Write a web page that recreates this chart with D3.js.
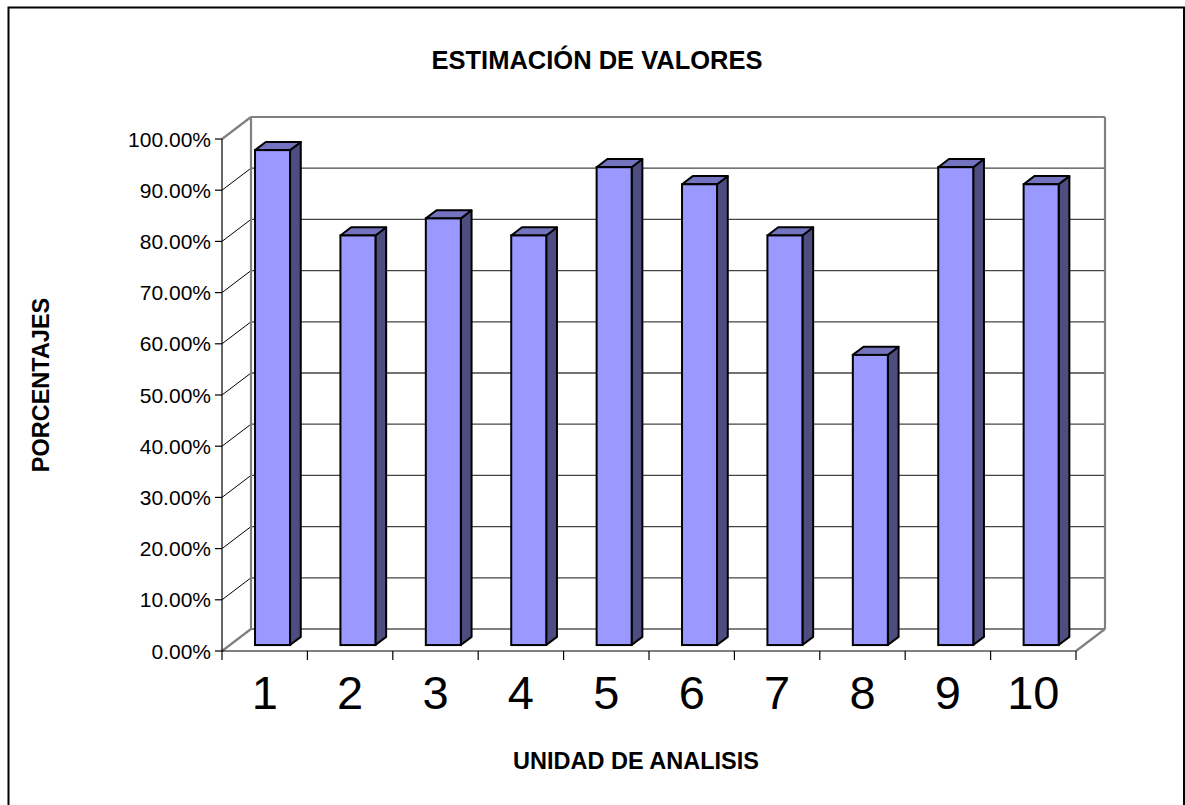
<!DOCTYPE html>
<html>
<head>
<meta charset="utf-8">
<script src="https://cdn.jsdelivr.net/npm/d3@7"></script>
<style>
  html, body { margin: 0; padding: 0; background: #fff; }
  svg { display: block; }
  text { font-family: Arial, "Liberation Sans", sans-serif; fill: #000; }
</style>
</head>
<body>
<svg id="chart" width="1185" height="805"></svg>
<script>
// ---- data ----
const categories = ["1", "2", "3", "4", "5", "6", "7", "8", "9", "10"];
const values = [0.9667, 0.80, 0.8333, 0.80, 0.9333, 0.90, 0.80, 0.5667, 0.9333, 0.90];
const yTicks = [0, 0.1, 0.2, 0.3, 0.4, 0.5, 0.6, 0.7, 0.8, 0.9, 1.0];
const titleText = "ESTIMACIÓN DE VALORES";
const yTitleText = "PORCENTAJES";
const xTitleText = "UNIDAD DE ANALISIS";

// ---- layout ----
const W = 1185, H = 805;
const plot = { left: 222, right: 1076, bottom: 651, top: 139 };
const depth = { dx: 29, dy: -22 };
const barFrontDepth = 0.27, barBackDepth = 0.64;

const svg = d3.select("#chart");

const x = d3.scaleBand().domain(categories).range([plot.left, plot.right]).paddingInner(0).paddingOuter(0);
const y = d3.scaleLinear().domain([0, 1]).range([plot.bottom, plot.top]);

// outer border
svg.append("rect").attr("x", 8.5).attr("y", 7.5).attr("width", 1175.5).attr("height", 805)
  .attr("fill", "#fff").attr("stroke", "#000").attr("stroke-width", 2);

const g = svg.append("g");
const wallColor = "#808080";

// back wall gridlines
g.selectAll("line.grid").data(yTicks.slice(1, -1)).join("line")
  .attr("x1", plot.left + depth.dx).attr("x2", plot.right + depth.dx)
  .attr("y1", d => y(d) + depth.dy).attr("y2", d => y(d) + depth.dy)
  .attr("stroke", "#444").attr("stroke-width", 1.3);

// side wall diagonals
g.selectAll("line.side").data(yTicks.slice(1, -1)).join("line")
  .attr("x1", plot.left).attr("x2", plot.left + depth.dx)
  .attr("y1", d => y(d)).attr("y2", d => y(d) + depth.dy)
  .attr("stroke", "#000").attr("stroke-width", 1);

// wall edges (gray)
const bx0 = plot.left + depth.dx, bx1 = plot.right + depth.dx;
const by0 = y(0) + depth.dy, by1 = y(1) + depth.dy;
const edges = [
  [bx0, by1, bx1, by1],
  [bx0, by1, bx0, by0],
  [bx1, by1, bx1, by0],
  [bx0, by0, bx1, by0],
  [plot.left, y(1), bx0, by1],
  [plot.left, y(0), bx0, by0],
  [plot.right, y(0), bx1, by0]
];
g.selectAll("line.edge").data(edges).join("line")
  .attr("x1", d => d[0]).attr("y1", d => d[1]).attr("x2", d => d[2]).attr("y2", d => d[3])
  .attr("stroke", wallColor).attr("stroke-width", 2.2);

// front axes
g.append("line").attr("x1", plot.left).attr("x2", plot.left).attr("y1", y(1)).attr("y2", y(0))
  .attr("stroke", "#000").attr("stroke-width", 1.2);
g.append("line").attr("x1", plot.left).attr("x2", plot.right).attr("y1", y(0)).attr("y2", y(0))
  .attr("stroke", "#000").attr("stroke-width", 1.2);

// y ticks + labels
const yt = g.selectAll("g.yt").data(yTicks).join("g").attr("transform", d => `translate(0,${y(d)})`);
yt.append("line").attr("x1", plot.left - 7).attr("x2", plot.left).attr("stroke", "#000").attr("stroke-width", 1.2);
yt.append("text").attr("x", plot.left - 11).attr("dy", "0.36em").attr("text-anchor", "end")
  .attr("font-size", 21).text(d => d3.format(".2%")(d));

// x ticks
const xTickPos = categories.map(c => x(c)).concat([plot.right]);
g.selectAll("line.xt").data(xTickPos).join("line")
  .attr("x1", d => d).attr("x2", d => d).attr("y1", y(0)).attr("y2", y(0) + 9)
  .attr("stroke", "#000").attr("stroke-width", 1.2);

// x labels
g.selectAll("text.xl").data(categories).join("text")
  .attr("x", d => x(d) + x.bandwidth() / 2).attr("y", 709)
  .attr("text-anchor", "middle").attr("font-size", 47).text(d => d);

// bars
const bw = x.bandwidth() * 0.41;
const fdx = depth.dx * barFrontDepth, fdy = depth.dy * barFrontDepth;
const bdx = depth.dx * (barBackDepth - barFrontDepth), bdy = depth.dy * (barBackDepth - barFrontDepth);
const bars = g.selectAll("g.bar").data(categories.map((c, i) => ({ c, v: values[i] }))).join("g");
bars.each(function (d) {
  const gg = d3.select(this);
  const x0 = x(d.c) + x.bandwidth() / 2 - bw / 2 + fdx;
  const x1 = x0 + bw;
  const yb = y(0) + fdy;
  const yt_ = y(d.v) + fdy;
  gg.append("path").attr("d", `M${x1},${yt_}L${x1 + bdx},${yt_ + bdy}L${x1 + bdx},${yb + bdy}L${x1},${yb}Z`)
    .attr("fill", "#4D4D80").attr("stroke", "#000").attr("stroke-width", 2).attr("stroke-linejoin", "round");
  gg.append("path").attr("d", `M${x0},${yt_}L${x1},${yt_}L${x1 + bdx},${yt_ + bdy}L${x0 + bdx},${yt_ + bdy}Z`)
    .attr("fill", "#7373BF").attr("stroke", "#000").attr("stroke-width", 2).attr("stroke-linejoin", "round");
  gg.append("rect").attr("x", x0).attr("y", yt_).attr("width", bw).attr("height", yb - yt_)
    .attr("fill", "#9999FF").attr("stroke", "#000").attr("stroke-width", 2);
});

// titles
svg.append("text").attr("x", 597).attr("y", 69).attr("text-anchor", "middle")
  .attr("font-size", 25.5).attr("font-weight", "bold").text(titleText);
svg.append("text").attr("transform", "translate(49,385) rotate(-90)").attr("text-anchor", "middle")
  .attr("font-size", 23.5).attr("font-weight", "bold").text(yTitleText);
svg.append("text").attr("x", 636).attr("y", 769).attr("text-anchor", "middle")
  .attr("font-size", 23.5).attr("font-weight", "bold").text(xTitleText);
</script>
</body>
</html>
